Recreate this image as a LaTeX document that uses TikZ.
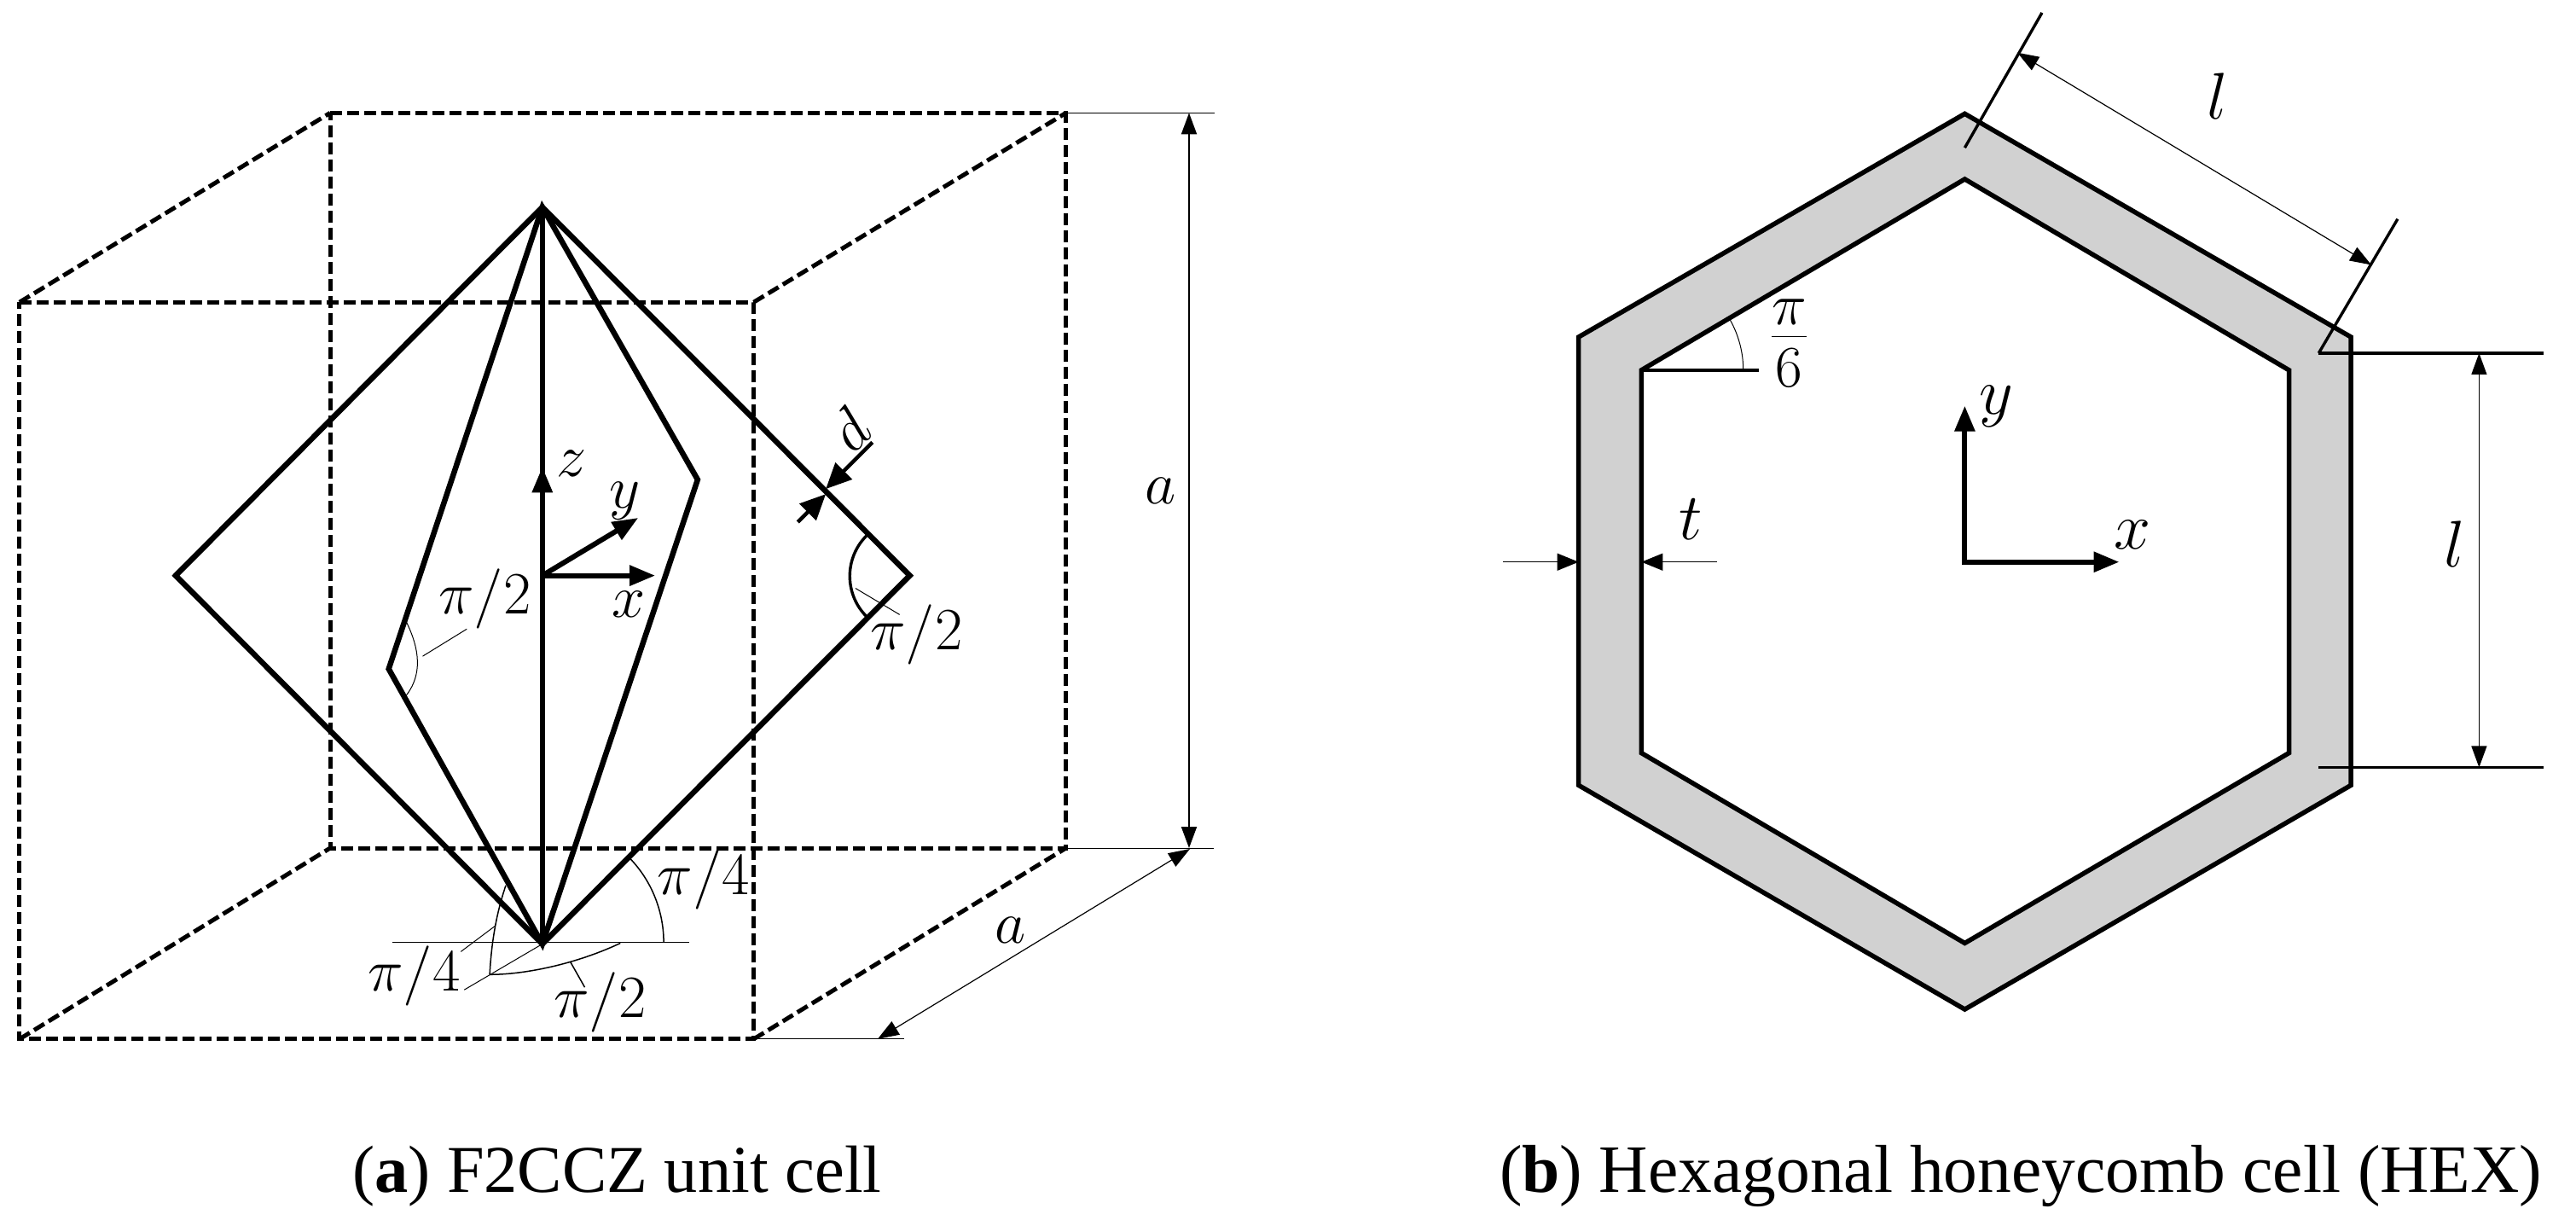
\documentclass[tikz,border=0pt]{standalone}
\usepackage{fix-cm}
\usepackage[no-math]{fontspec}
\newfontfamily\capfont{Liberation Serif}
\usetikzlibrary{arrows.meta}
\tikzset{
  strut/.style={line width=0.065cm, miter limit=20},
  cage/.style={line width=0.05cm, dash pattern=on 0.14cm off 0.06cm},
  wall/.style={line width=0.055cm, miter limit=20},
  thinline/.style={line width=0.015cm},
  hairline/.style={line width=0.01cm},
  midline/.style={line width=0.034cm},
  axis/.style={line width=0.06cm, -{Triangle[length=0.3cm,width=0.23cm]}},
  dimline/.style={line width=0.012cm, {Triangle[length=0.25cm,width=0.18cm]}-{Triangle[length=0.25cm,width=0.18cm]}},
  oneway/.style={thinline, -{Triangle[length=0.25cm,width=0.2cm]}},
  gapmark/.style={line width=0.045cm, -{Triangle[length=0.3cm,width=0.27cm]}},
  lefttext/.style={font=\fontsize{20}{24}\selectfont, inner sep=0pt},
  righttext/.style={font=\fontsize{22}{26}\selectfont, inner sep=0pt},
  captext/.style={font=\capfont\fontsize{22.3}{26}\selectfont, inner sep=0pt, anchor=base}
}
\begin{document}
\begin{tikzpicture}[x=0.00995cm,y=-0.00995cm]
\useasboundingbox (0,0) rectangle (3035.2,1444.2);

\coordinate (fa) at (23,356);   \coordinate (fb) at (888,356);
\coordinate (fc) at (888,1224); \coordinate (fd) at (23,1224);
\coordinate (ba) at (389,133);  \coordinate (bb) at (1256,133);
\coordinate (bc) at (1256,999); \coordinate (bd) at (389,999);
\draw[cage] (fa) -- (fb) -- (fc) -- (fd) -- cycle;
\draw[cage] (ba) -- (bb) -- (bc) -- (bd) -- cycle;
\draw[cage] (fa) -- (ba);  \draw[cage] (fb) -- (bb);
\draw[cage] (fc) -- (bc);  \draw[cage] (fd) -- (bd);

\coordinate (top) at (639,244);  \coordinate (bot) at (639,1112);
\coordinate (west) at (207,678); \coordinate (east) at (1072,678);
\coordinate (inw) at (458,788);  \coordinate (ine) at (822,565);
\draw[strut] (top) -- (east) -- (bot) -- (west) -- cycle;
\draw[strut] (top) -- (ine) -- (bot) -- (inw) -- cycle;
\draw[strut] (top) -- (bot);

\coordinate (orig) at (639,678);
\draw[axis] (639,700) -- (639,550);
\draw[axis] (orig) -- (772,678);
\draw[axis] (orig) -- (752,610);
\node[lefttext] (zlab) at (673,546) {$z$};
\node[lefttext] (ylab) at (736,590) {$y$};
\node[lefttext] (xlab) at (741,712) {$x$};

\draw[midline] (1021,631) arc [start angle=135, end angle=225, radius=0.67cm];
\draw[hairline] (1008,693) -- (1060,724);
\node[lefttext] (pie) at (1080,748) {$\pi/2$};
\draw[hairline] (478,731) .. controls (490,755) and (502,790) .. (478,820);
\draw[hairline] (498,773) -- (550,741);
\node[lefttext] (piw) at (571,705) {$\pi/2$};

\draw[gapmark] (1028,521) -- (973,576);
\draw[gapmark] (940,615) -- (973,582);
\node[lefttext, rotate=45] (dlab) at (1001,506) {$d$};

\draw[thinline] (462,1110) -- (812,1110);
\draw[thinline] (782,1110) arc [start angle=0, end angle=44, radius=1.42cm];
\node[lefttext] (pia) at (829,1036) {$\pi/4$};
\coordinate (lowp) at (577,1148);
\draw[hairline] (639,1112) -- (547,1166);
\draw[thinline] (lowp) .. controls (579,1110) and (585,1075) .. (596,1043);
\draw[thinline] (lowp) .. controls (620,1148) and (680,1135) .. (731,1111);
\draw[thinline] (672,1133) -- (689,1163);
\draw[hairline] (543,1121) -- (583,1091);
\node[lefttext] (pib) at (488,1150) {$\pi/4$};
\node[lefttext] (pic) at (707,1181) {$\pi/2$};

\draw[hairline] (bb) -- (1431,133);
\draw[hairline] (bc) -- (1430,999);
\draw[dimline, line width=0.02cm] (1401,133) -- (1401,999);
\node[lefttext] (ah) at (1367,578) {$a$};
\draw[hairline] (fc) -- (1065,1224);
\draw[dimline] (1402,1000) -- (1034,1224);
\node[lefttext] (ad) at (1191,1096) {$a$};

\fill[fill=black!18, even odd rule]
  (2315,134) -- (2770,397) -- (2770,925) -- (2315,1189) -- (1860,925) -- (1860,397) -- cycle
  (2315,211) -- (2697,436) -- (2697,887) -- (2315,1111) -- (1934,887) -- (1934,436) -- cycle;
\draw[wall] (2315,134) -- (2770,397) -- (2770,925) -- (2315,1189) -- (1860,925) -- (1860,397) -- cycle;
\draw[wall] (2315,211) -- (2697,436) -- (2697,887) -- (2315,1111) -- (1934,887) -- (1934,436) -- cycle;

\coordinate (tickaa) at (2315,174); \coordinate (tickab) at (2406,15);
\coordinate (tickba) at (2732,416); \coordinate (tickbb) at (2825,258);
\draw[midline] (tickaa) -- (tickab);
\draw[midline] (tickba) -- (tickbb);
\draw[dimline] (2377,62) -- (2794,312);
\node[righttext] (lup) at (2613,113) {$l$};

\coordinate (rowb) at (2732,904);
\draw[midline] (tickba) -- (2997,416);
\draw[midline] (rowb) -- (2997,904);
\draw[dimline] (2921,416) -- (2921,904);
\node[righttext] (lri) at (2892,641) {$l$};

\draw[midline] (1934,436) -- (2072,436);
\draw[hairline] (2054,436) arc [start angle=0, end angle=30, radius=1.2cm];
\node[font=\fontsize{28}{32}\selectfont, inner sep=0pt] (pis) at (2108,404) {$\frac{\pi}{6}$};

\draw[oneway] (1771,662) -- (1860,662);
\draw[oneway] (2023,662) -- (1934,662);
\node[righttext] (tlab) at (1992,612) {$t$};

\coordinate (hexo) at (2315,662);
\draw[axis] (2315,664) -- (2315,478);
\draw[axis] (2312,662) -- (2497,662);
\node[righttext] (yhex) at (2352,479) {$y$};
\node[righttext] (xhex) at (2513,630) {$x$};

\node[captext] (capa) at (727,1404) {(\textbf{a}) F2CCZ unit cell};
\node[captext, font=\capfont\fontsize{22.6}{26}\selectfont] (capb) at (2381,1404) {(\textbf{b}) Hexagonal honeycomb cell (HEX)};
\end{tikzpicture}
\end{document}
